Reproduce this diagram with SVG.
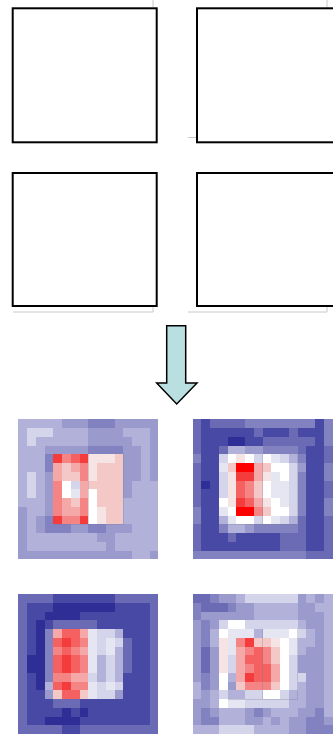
<svg xmlns="http://www.w3.org/2000/svg" width="333" height="735" viewBox="0 0 333 735">
<style>
.box{fill:#fff;stroke:#000;stroke-width:2}
.shadow{stroke:#c8c8c8;stroke-width:1;fill:none}
.hm{shape-rendering:crispEdges}
.a{fill:#d4d4ea}.b{fill:#b1b1d9}.c{fill:#9a9acd}.d{fill:#8282c1}.e{fill:#6a6ab5}.f{fill:#4848a5}.g{fill:#2e2e96}
.w{fill:#ffffff}.v{fill:#e6e6f3}.p{fill:#f6e4e4}.q{fill:#f5c8c8}.r{fill:#f5a8a8}.s{fill:#f58484}.t{fill:#f56060}.u{fill:#f53c3c}.x{fill:#ff0000}
.frame{fill:none;stroke:#7a7a9a;stroke-width:0.07;stroke-opacity:0.5}
.arrow{fill:#b9dfe1;stroke:#000;stroke-width:1.5;stroke-linejoin:miter}
</style>
<rect width="333" height="735" fill="#fff"/>
<g id="shadows">
<line class="shadow" x1="153" y1="0" x2="153" y2="7"/>
<line class="shadow" x1="327" y1="0" x2="327" y2="7"/>
<line class="shadow" x1="188" y1="137.5" x2="196" y2="137.5"/>
<line class="shadow" x1="13" y1="312" x2="153" y2="312"/>
<line class="shadow" x1="153" y1="307" x2="153" y2="312"/>
<line class="shadow" x1="188" y1="312" x2="327" y2="312"/>
<line class="shadow" x1="327" y1="307" x2="327" y2="312"/>
</g>
<g id="box1"><rect class="box" x="12.7" y="8.3" width="144" height="134"/></g>
<g id="box2"><rect class="box" x="197" y="8.3" width="144" height="134"/></g>
<g id="box3"><rect class="box" x="12.7" y="173" width="144" height="133"/></g>
<g id="box4"><rect class="box" x="197" y="173" width="144" height="133"/></g>
<g id="connectors">
<polygon class="arrow" points="166.7,325.7 185.7,325.7 185.7,383 197,383 176.7,404 156.7,383 166.7,383"/>
</g>
<g id="heatmap1" class="hm" transform="translate(18.3 419.3) scale(8.75)">
<rect class="b" x="0" y="0" width="16" height="16"/>
<rect class="c" x="5" y="0" width="3" height="1"/><rect class="d" x="8" y="0" width="3" height="1"/><rect class="c" x="11" y="0" width="5" height="1"/>
<rect class="a" x="1" y="1" width="3" height="1"/><rect class="c" x="8" y="1" width="4" height="1"/><rect class="c" x="15" y="1" width="1" height="1"/>
<rect class="a" x="1" y="2" width="1" height="1"/><rect class="c" x="8" y="2" width="5" height="1"/><rect class="c" x="15" y="2" width="1" height="1"/>
<rect class="c" x="3" y="3" width="5" height="1"/><rect class="d" x="8" y="3" width="4" height="1"/><rect class="c" x="12" y="3" width="2" height="1"/><rect class="c" x="15" y="3" width="1" height="1"/>
<rect class="d" x="3" y="4" width="1" height="1"/><rect class="u" x="4" y="4" width="1" height="1"/><rect class="s" x="5" y="4" width="1" height="1"/><rect class="t" x="6" y="4" width="1" height="1"/><rect class="u" x="7" y="4" width="1" height="1"/><rect class="p" x="8" y="4" width="3" height="1"/><rect class="q" x="11" y="4" width="1" height="1"/><rect class="c" x="12" y="4" width="2" height="1"/><rect class="c" x="15" y="4" width="1" height="1"/>
<rect class="d" x="3" y="5" width="1" height="1"/><rect class="r" x="4" y="5" width="1" height="1"/><rect class="q" x="5" y="5" width="1" height="1"/><rect class="r" x="6" y="5" width="1" height="1"/><rect class="s" x="7" y="5" width="1" height="1"/><rect class="p" x="8" y="5" width="1" height="1"/><rect class="q" x="9" y="5" width="3" height="1"/><rect class="c" x="12" y="5" width="2" height="1"/><rect class="c" x="15" y="5" width="1" height="1"/>
<rect class="a" x="1" y="6" width="1" height="1"/><rect class="c" x="3" y="6" width="1" height="1"/><rect class="r" x="4" y="6" width="1" height="1"/><rect class="q" x="5" y="6" width="2" height="1"/><rect class="s" x="7" y="6" width="1" height="1"/><rect class="p" x="8" y="6" width="1" height="1"/><rect class="q" x="9" y="6" width="3" height="1"/><rect class="c" x="12" y="6" width="2" height="1"/><rect class="c" x="15" y="6" width="1" height="1"/>
<rect class="a" x="1" y="7" width="1" height="1"/><rect class="c" x="3" y="7" width="1" height="1"/><rect class="s" x="4" y="7" width="1" height="1"/><rect class="w" x="5" y="7" width="1" height="1"/><rect class="a" x="6" y="7" width="1" height="1"/><rect class="r" x="7" y="7" width="1" height="1"/><rect class="q" x="8" y="7" width="4" height="1"/><rect class="c" x="12" y="7" width="1" height="1"/>
<rect class="a" x="1" y="8" width="1" height="1"/><rect class="c" x="3" y="8" width="1" height="1"/><rect class="s" x="4" y="8" width="1" height="1"/><rect class="w" x="5" y="8" width="1" height="1"/><rect class="v" x="6" y="8" width="1" height="1"/><rect class="r" x="7" y="8" width="1" height="1"/><rect class="w" x="8" y="8" width="1" height="1"/><rect class="q" x="9" y="8" width="3" height="1"/><rect class="c" x="12" y="8" width="1" height="1"/>
<rect class="c" x="3" y="9" width="1" height="1"/><rect class="s" x="4" y="9" width="1" height="1"/><rect class="r" x="5" y="9" width="1" height="1"/><rect class="q" x="6" y="9" width="1" height="1"/><rect class="s" x="7" y="9" width="1" height="1"/><rect class="w" x="8" y="9" width="1" height="1"/><rect class="q" x="9" y="9" width="3" height="1"/>
<rect class="c" x="0" y="10" width="1" height="1"/><rect class="c" x="3" y="10" width="1" height="1"/><rect class="s" x="4" y="10" width="1" height="1"/><rect class="r" x="5" y="10" width="2" height="1"/><rect class="s" x="7" y="10" width="1" height="1"/><rect class="w" x="8" y="10" width="1" height="1"/><rect class="p" x="9" y="10" width="1" height="1"/><rect class="q" x="10" y="10" width="2" height="1"/>
<rect class="c" x="0" y="11" width="1" height="1"/><rect class="c" x="2" y="11" width="1" height="1"/><rect class="d" x="3" y="11" width="1" height="1"/><rect class="u" x="4" y="11" width="1" height="1"/><rect class="s" x="5" y="11" width="2" height="1"/><rect class="u" x="7" y="11" width="1" height="1"/><rect class="w" x="8" y="11" width="1" height="1"/><rect class="p" x="9" y="11" width="1" height="1"/><rect class="q" x="10" y="11" width="2" height="1"/>
<rect class="c" x="0" y="12" width="1" height="1"/><rect class="c" x="2" y="12" width="1" height="1"/><rect class="d" x="3" y="12" width="3" height="1"/><rect class="c" x="6" y="12" width="2" height="1"/><rect class="d" x="8" y="12" width="2" height="1"/><rect class="c" x="10" y="12" width="3" height="1"/>
<rect class="c" x="0" y="13" width="1" height="1"/><rect class="c" x="9" y="13" width="2" height="1"/>
<rect class="c" x="0" y="14" width="1" height="1"/><rect class="c" x="10" y="14" width="1" height="1"/>
<rect class="c" x="0" y="15" width="13" height="1"/><rect class="c" x="15" y="15" width="1" height="1"/>
<path class="frame" d="M12 4V12H4M8 4V12"/>
</g>
<g id="heatmap2" class="hm" transform="translate(192.7 419.3) scale(8.75)">
<rect class="f" x="0" y="0" width="16" height="16"/>
<rect class="e" x="0" y="0" width="1" height="1"/><rect class="e" x="2" y="0" width="4" height="1"/><rect class="d" x="6" y="0" width="8" height="1"/><rect class="d" x="15" y="0" width="1" height="1"/>
<rect class="e" x="0" y="1" width="1" height="1"/><rect class="e" x="7" y="1" width="1" height="1"/><rect class="e" x="11" y="1" width="1" height="1"/><rect class="d" x="15" y="1" width="1" height="1"/>
<rect class="e" x="0" y="2" width="1" height="1"/><rect class="g" x="4" y="2" width="2" height="1"/><rect class="e" x="8" y="2" width="6" height="1"/><rect class="d" x="15" y="2" width="1" height="1"/>
<rect class="e" x="0" y="3" width="1" height="1"/><rect class="e" x="3" y="3" width="1" height="1"/><rect class="b" x="4" y="3" width="2" height="1"/><rect class="c" x="6" y="3" width="2" height="1"/><rect class="d" x="8" y="3" width="4" height="1"/><rect class="e" x="12" y="3" width="1" height="1"/><rect class="e" x="15" y="3" width="1" height="1"/>
<rect class="d" x="0" y="4" width="1" height="1"/><rect class="a" x="3" y="4" width="1" height="1"/><rect class="w" x="4" y="4" width="1" height="1"/><rect class="p" x="5" y="4" width="1" height="1"/><rect class="w" x="6" y="4" width="1" height="1"/><rect class="a" x="7" y="4" width="1" height="1"/><rect class="w" x="8" y="4" width="1" height="1"/><rect class="v" x="9" y="4" width="1" height="1"/><rect class="a" x="10" y="4" width="1" height="1"/><rect class="b" x="11" y="4" width="1" height="1"/><rect class="d" x="12" y="4" width="1" height="1"/><rect class="e" x="15" y="4" width="1" height="1"/>
<rect class="e" x="0" y="5" width="1" height="1"/><rect class="v" x="3" y="5" width="1" height="1"/><rect class="q" x="4" y="5" width="1" height="1"/><rect class="x" x="5" y="5" width="2" height="1"/><rect class="r" x="7" y="5" width="1" height="1"/><rect class="q" x="8" y="5" width="1" height="1"/><rect class="w" x="9" y="5" width="2" height="1"/><rect class="a" x="11" y="5" width="1" height="1"/><rect class="c" x="12" y="5" width="1" height="1"/><rect class="d" x="15" y="5" width="1" height="1"/>
<rect class="e" x="0" y="6" width="1" height="1"/><rect class="a" x="3" y="6" width="1" height="1"/><rect class="p" x="4" y="6" width="1" height="1"/><rect class="u" x="5" y="6" width="2" height="1"/><rect class="r" x="7" y="6" width="1" height="1"/><rect class="p" x="8" y="6" width="1" height="1"/><rect class="v" x="9" y="6" width="1" height="1"/><rect class="w" x="10" y="6" width="1" height="1"/><rect class="a" x="11" y="6" width="1" height="1"/><rect class="d" x="12" y="6" width="1" height="1"/><rect class="d" x="15" y="6" width="1" height="1"/>
<rect class="e" x="0" y="7" width="1" height="1"/><rect class="g" x="1" y="7" width="1" height="1"/><rect class="a" x="3" y="7" width="1" height="1"/><rect class="p" x="4" y="7" width="1" height="1"/><rect class="t" x="5" y="7" width="1" height="1"/><rect class="s" x="6" y="7" width="1" height="1"/><rect class="q" x="7" y="7" width="1" height="1"/><rect class="w" x="8" y="7" width="1" height="1"/><rect class="v" x="9" y="7" width="2" height="1"/><rect class="a" x="11" y="7" width="1" height="1"/><rect class="d" x="12" y="7" width="1" height="1"/><rect class="e" x="15" y="7" width="1" height="1"/>
<rect class="e" x="0" y="8" width="1" height="1"/><rect class="a" x="3" y="8" width="1" height="1"/><rect class="p" x="4" y="8" width="1" height="1"/><rect class="t" x="5" y="8" width="1" height="1"/><rect class="s" x="6" y="8" width="1" height="1"/><rect class="q" x="7" y="8" width="1" height="1"/><rect class="w" x="8" y="8" width="1" height="1"/><rect class="v" x="9" y="8" width="2" height="1"/><rect class="a" x="11" y="8" width="1" height="1"/><rect class="d" x="12" y="8" width="1" height="1"/><rect class="e" x="15" y="8" width="1" height="1"/>
<rect class="e" x="0" y="9" width="1" height="1"/><rect class="w" x="3" y="9" width="1" height="1"/><rect class="p" x="4" y="9" width="1" height="1"/><rect class="u" x="5" y="9" width="1" height="1"/><rect class="t" x="6" y="9" width="1" height="1"/><rect class="r" x="7" y="9" width="1" height="1"/><rect class="p" x="8" y="9" width="1" height="1"/><rect class="w" x="9" y="9" width="1" height="1"/><rect class="v" x="10" y="9" width="1" height="1"/><rect class="a" x="11" y="9" width="1" height="1"/><rect class="d" x="12" y="9" width="1" height="1"/><rect class="d" x="15" y="9" width="1" height="1"/>
<rect class="d" x="0" y="10" width="1" height="1"/><rect class="v" x="3" y="10" width="1" height="1"/><rect class="w" x="4" y="10" width="1" height="1"/><rect class="x" x="5" y="10" width="2" height="1"/><rect class="s" x="7" y="10" width="1" height="1"/><rect class="q" x="8" y="10" width="1" height="1"/><rect class="w" x="9" y="10" width="2" height="1"/><rect class="a" x="11" y="10" width="1" height="1"/><rect class="d" x="12" y="10" width="1" height="1"/><rect class="d" x="15" y="10" width="1" height="1"/>
<rect class="d" x="0" y="11" width="1" height="1"/><rect class="b" x="3" y="11" width="1" height="1"/><rect class="v" x="4" y="11" width="1" height="1"/><rect class="w" x="5" y="11" width="2" height="1"/><rect class="a" x="7" y="11" width="1" height="1"/><rect class="w" x="8" y="11" width="1" height="1"/><rect class="v" x="9" y="11" width="1" height="1"/><rect class="a" x="10" y="11" width="1" height="1"/><rect class="b" x="11" y="11" width="1" height="1"/><rect class="e" x="12" y="11" width="1" height="1"/><rect class="e" x="15" y="11" width="1" height="1"/>
<rect class="e" x="0" y="12" width="1" height="1"/><rect class="d" x="3" y="12" width="1" height="1"/><rect class="b" x="4" y="12" width="2" height="1"/><rect class="c" x="6" y="12" width="1" height="1"/><rect class="d" x="7" y="12" width="5" height="1"/><rect class="e" x="12" y="12" width="1" height="1"/><rect class="e" x="15" y="12" width="1" height="1"/>
<rect class="e" x="0" y="13" width="1" height="1"/><rect class="e" x="4" y="13" width="1" height="1"/><rect class="e" x="10" y="13" width="3" height="1"/><rect class="e" x="15" y="13" width="1" height="1"/>
<rect class="e" x="0" y="14" width="1" height="1"/><rect class="e" x="10" y="14" width="3" height="1"/><rect class="e" x="15" y="14" width="1" height="1"/>
<rect class="d" x="0" y="15" width="13" height="1"/><rect class="e" x="13" y="15" width="3" height="1"/>
<path class="frame" d="M12 4V12H4M8 4V12"/>
</g>
<g id="heatmap3" class="hm" transform="translate(18.3 594) scale(8.75)">
<rect class="f" x="0" y="0" width="16" height="16"/>
<rect class="e" x="0" y="0" width="4" height="1"/><rect class="e" x="11" y="0" width="5" height="1"/>
<rect class="e" x="0" y="1" width="1" height="1"/><rect class="g" x="4" y="1" width="7" height="1"/><rect class="e" x="15" y="1" width="1" height="1"/>
<rect class="e" x="0" y="2" width="1" height="1"/><rect class="g" x="3" y="2" width="4" height="1"/><rect class="e" x="15" y="2" width="1" height="1"/>
<rect class="e" x="0" y="3" width="1" height="1"/><rect class="g" x="2" y="3" width="1" height="1"/><rect class="e" x="4" y="3" width="5" height="1"/><rect class="e" x="15" y="3" width="1" height="1"/>
<rect class="e" x="0" y="4" width="1" height="1"/><rect class="g" x="2" y="4" width="1" height="1"/><rect class="d" x="3" y="4" width="1" height="1"/><rect class="r" x="4" y="4" width="1" height="1"/><rect class="t" x="5" y="4" width="2" height="1"/><rect class="r" x="7" y="4" width="1" height="1"/><rect class="v" x="8" y="4" width="1" height="1"/><rect class="a" x="9" y="4" width="2" height="1"/><rect class="b" x="11" y="4" width="1" height="1"/><rect class="e" x="15" y="4" width="1" height="1"/>
<rect class="e" x="0" y="5" width="1" height="1"/><rect class="g" x="2" y="5" width="1" height="1"/><rect class="d" x="3" y="5" width="1" height="1"/><rect class="t" x="4" y="5" width="1" height="1"/><rect class="u" x="5" y="5" width="1" height="1"/><rect class="t" x="6" y="5" width="1" height="1"/><rect class="s" x="7" y="5" width="1" height="1"/><rect class="v" x="8" y="5" width="1" height="1"/><rect class="a" x="9" y="5" width="1" height="1"/><rect class="v" x="10" y="5" width="1" height="1"/><rect class="a" x="11" y="5" width="1" height="1"/><rect class="e" x="12" y="5" width="1" height="1"/><rect class="e" x="15" y="5" width="1" height="1"/>
<rect class="e" x="0" y="6" width="1" height="1"/><rect class="g" x="2" y="6" width="1" height="1"/><rect class="d" x="3" y="6" width="1" height="1"/><rect class="s" x="4" y="6" width="1" height="1"/><rect class="t" x="5" y="6" width="1" height="1"/><rect class="s" x="6" y="6" width="1" height="1"/><rect class="r" x="7" y="6" width="1" height="1"/><rect class="v" x="8" y="6" width="1" height="1"/><rect class="a" x="9" y="6" width="1" height="1"/><rect class="v" x="10" y="6" width="1" height="1"/><rect class="b" x="11" y="6" width="1" height="1"/><rect class="e" x="12" y="6" width="1" height="1"/><rect class="e" x="15" y="6" width="1" height="1"/>
<rect class="e" x="0" y="7" width="1" height="1"/><rect class="g" x="1" y="7" width="2" height="1"/><rect class="d" x="3" y="7" width="1" height="1"/><rect class="t" x="4" y="7" width="1" height="1"/><rect class="u" x="5" y="7" width="1" height="1"/><rect class="t" x="6" y="7" width="1" height="1"/><rect class="s" x="7" y="7" width="1" height="1"/><rect class="v" x="8" y="7" width="1" height="1"/><rect class="b" x="9" y="7" width="1" height="1"/><rect class="a" x="10" y="7" width="1" height="1"/><rect class="b" x="11" y="7" width="1" height="1"/><rect class="e" x="12" y="7" width="1" height="1"/><rect class="e" x="15" y="7" width="1" height="1"/>
<rect class="e" x="0" y="8" width="1" height="1"/><rect class="g" x="1" y="8" width="2" height="1"/><rect class="d" x="3" y="8" width="1" height="1"/><rect class="t" x="4" y="8" width="1" height="1"/><rect class="u" x="5" y="8" width="1" height="1"/><rect class="t" x="6" y="8" width="1" height="1"/><rect class="s" x="7" y="8" width="1" height="1"/><rect class="v" x="8" y="8" width="1" height="1"/><rect class="b" x="9" y="8" width="1" height="1"/><rect class="a" x="10" y="8" width="1" height="1"/><rect class="b" x="11" y="8" width="1" height="1"/><rect class="e" x="12" y="8" width="1" height="1"/><rect class="e" x="15" y="8" width="1" height="1"/>
<rect class="e" x="0" y="9" width="1" height="1"/><rect class="g" x="2" y="9" width="1" height="1"/><rect class="d" x="3" y="9" width="1" height="1"/><rect class="s" x="4" y="9" width="2" height="1"/><rect class="r" x="6" y="9" width="2" height="1"/><rect class="a" x="8" y="9" width="1" height="1"/><rect class="b" x="9" y="9" width="1" height="1"/><rect class="a" x="10" y="9" width="1" height="1"/><rect class="b" x="11" y="9" width="1" height="1"/><rect class="e" x="15" y="9" width="1" height="1"/>
<rect class="e" x="0" y="10" width="1" height="1"/><rect class="g" x="2" y="10" width="1" height="1"/><rect class="b" x="3" y="10" width="1" height="1"/><rect class="t" x="4" y="10" width="1" height="1"/><rect class="u" x="5" y="10" width="1" height="1"/><rect class="s" x="6" y="10" width="2" height="1"/><rect class="v" x="8" y="10" width="1" height="1"/><rect class="a" x="9" y="10" width="1" height="1"/><rect class="v" x="10" y="10" width="1" height="1"/><rect class="a" x="11" y="10" width="1" height="1"/><rect class="e" x="15" y="10" width="1" height="1"/>
<rect class="e" x="0" y="11" width="1" height="1"/><rect class="c" x="3" y="11" width="1" height="1"/><rect class="q" x="4" y="11" width="1" height="1"/><rect class="t" x="5" y="11" width="2" height="1"/><rect class="q" x="7" y="11" width="1" height="1"/><rect class="v" x="8" y="11" width="1" height="1"/><rect class="a" x="9" y="11" width="2" height="1"/><rect class="c" x="11" y="11" width="1" height="1"/><rect class="e" x="15" y="11" width="1" height="1"/>
<rect class="e" x="0" y="12" width="1" height="1"/><rect class="e" x="4" y="12" width="3" height="1"/><rect class="e" x="15" y="12" width="1" height="1"/>
<rect class="e" x="0" y="13" width="1" height="1"/><rect class="g" x="5" y="13" width="1" height="1"/><rect class="g" x="7" y="13" width="1" height="1"/><rect class="e" x="15" y="13" width="1" height="1"/>
<rect class="e" x="0" y="14" width="1" height="1"/><rect class="g" x="3" y="14" width="4" height="1"/><rect class="e" x="15" y="14" width="1" height="1"/>
<rect class="e" x="0" y="15" width="5" height="1"/><rect class="e" x="7" y="15" width="9" height="1"/>
</g>
<g id="heatmap4" class="hm" transform="translate(192.7 594) scale(8.75)">
<rect class="b" x="0" y="0" width="16" height="16"/>
<rect class="e" x="0" y="0" width="2" height="1"/><rect class="d" x="2" y="0" width="1" height="1"/><rect class="c" x="3" y="0" width="2" height="1"/><rect class="a" x="6" y="0" width="6" height="1"/><rect class="c" x="12" y="0" width="1" height="1"/><rect class="c" x="14" y="0" width="1" height="1"/>
<rect class="d" x="0" y="1" width="1" height="1"/><rect class="e" x="1" y="1" width="3" height="1"/><rect class="d" x="4" y="1" width="1" height="1"/><rect class="c" x="5" y="1" width="2" height="1"/><rect class="c" x="12" y="1" width="2" height="1"/>
<rect class="d" x="0" y="2" width="1" height="1"/><rect class="c" x="1" y="2" width="6" height="1"/><rect class="c" x="12" y="2" width="3" height="1"/>
<rect class="c" x="0" y="3" width="1" height="1"/><rect class="d" x="1" y="3" width="1" height="1"/><rect class="c" x="2" y="3" width="1" height="1"/><rect class="a" x="3" y="3" width="1" height="1"/><rect class="w" x="4" y="3" width="2" height="1"/><rect class="a" x="6" y="3" width="6" height="1"/><rect class="c" x="13" y="3" width="2" height="1"/>
<rect class="c" x="0" y="4" width="1" height="1"/><rect class="d" x="1" y="4" width="1" height="1"/><rect class="w" x="3" y="4" width="1" height="1"/><rect class="v" x="4" y="4" width="3" height="1"/><rect class="v" x="8" y="4" width="3" height="1"/><rect class="w" x="11" y="4" width="1" height="1"/><rect class="a" x="12" y="4" width="1" height="1"/><rect class="c" x="14" y="4" width="1" height="1"/>
<rect class="c" x="0" y="5" width="1" height="1"/><rect class="d" x="1" y="5" width="1" height="1"/><rect class="p" x="3" y="5" width="1" height="1"/><rect class="v" x="4" y="5" width="1" height="1"/><rect class="s" x="5" y="5" width="1" height="1"/><rect class="u" x="6" y="5" width="1" height="1"/><rect class="q" x="7" y="5" width="2" height="1"/><rect class="p" x="9" y="5" width="1" height="1"/><rect class="w" x="10" y="5" width="1" height="1"/><rect class="v" x="11" y="5" width="1" height="1"/><rect class="c" x="14" y="5" width="1" height="1"/>
<rect class="c" x="0" y="6" width="1" height="1"/><rect class="e" x="1" y="6" width="1" height="1"/><rect class="c" x="2" y="6" width="1" height="1"/><rect class="p" x="3" y="6" width="1" height="1"/><rect class="v" x="4" y="6" width="1" height="1"/><rect class="r" x="5" y="6" width="1" height="1"/><rect class="s" x="6" y="6" width="1" height="1"/><rect class="t" x="7" y="6" width="1" height="1"/><rect class="s" x="8" y="6" width="1" height="1"/><rect class="q" x="9" y="6" width="1" height="1"/><rect class="w" x="10" y="6" width="1" height="1"/><rect class="v" x="11" y="6" width="1" height="1"/><rect class="c" x="13" y="6" width="2" height="1"/>
<rect class="c" x="0" y="7" width="1" height="1"/><rect class="e" x="1" y="7" width="1" height="1"/><rect class="c" x="2" y="7" width="1" height="1"/><rect class="p" x="3" y="7" width="1" height="1"/><rect class="a" x="4" y="7" width="1" height="1"/><rect class="r" x="5" y="7" width="1" height="1"/><rect class="t" x="6" y="7" width="2" height="1"/><rect class="s" x="8" y="7" width="1" height="1"/><rect class="q" x="9" y="7" width="1" height="1"/><rect class="w" x="10" y="7" width="1" height="1"/><rect class="a" x="11" y="7" width="1" height="1"/><rect class="c" x="12" y="7" width="3" height="1"/>
<rect class="c" x="0" y="8" width="1" height="1"/><rect class="e" x="1" y="8" width="1" height="1"/><rect class="c" x="2" y="8" width="1" height="1"/><rect class="p" x="3" y="8" width="1" height="1"/><rect class="a" x="4" y="8" width="1" height="1"/><rect class="r" x="5" y="8" width="1" height="1"/><rect class="s" x="6" y="8" width="1" height="1"/><rect class="t" x="7" y="8" width="2" height="1"/><rect class="r" x="9" y="8" width="1" height="1"/><rect class="w" x="10" y="8" width="1" height="1"/><rect class="a" x="11" y="8" width="1" height="1"/><rect class="c" x="12" y="8" width="3" height="1"/>
<rect class="c" x="0" y="9" width="1" height="1"/><rect class="d" x="1" y="9" width="1" height="1"/><rect class="c" x="2" y="9" width="1" height="1"/><rect class="w" x="3" y="9" width="1" height="1"/><rect class="r" x="5" y="9" width="1" height="1"/><rect class="u" x="6" y="9" width="1" height="1"/><rect class="t" x="7" y="9" width="2" height="1"/><rect class="r" x="9" y="9" width="1" height="1"/><rect class="w" x="10" y="9" width="1" height="1"/><rect class="a" x="11" y="9" width="2" height="1"/><rect class="c" x="13" y="9" width="2" height="1"/>
<rect class="d" x="1" y="10" width="1" height="1"/><rect class="c" x="2" y="10" width="1" height="1"/><rect class="w" x="3" y="10" width="1" height="1"/><rect class="c" x="4" y="10" width="1" height="1"/><rect class="q" x="5" y="10" width="1" height="1"/><rect class="s" x="6" y="10" width="3" height="1"/><rect class="q" x="9" y="10" width="1" height="1"/><rect class="w" x="10" y="10" width="1" height="1"/><rect class="a" x="11" y="10" width="1" height="1"/><rect class="c" x="13" y="10" width="2" height="1"/>
<rect class="c" x="1" y="11" width="1" height="1"/><rect class="a" x="3" y="11" width="1" height="1"/><rect class="a" x="6" y="11" width="2" height="1"/><rect class="w" x="8" y="11" width="2" height="1"/><rect class="a" x="10" y="11" width="1" height="1"/><rect class="c" x="13" y="11" width="2" height="1"/>
<rect class="c" x="0" y="12" width="2" height="1"/><rect class="w" x="3" y="12" width="1" height="1"/><rect class="v" x="4" y="12" width="2" height="1"/><rect class="a" x="6" y="12" width="5" height="1"/><rect class="c" x="13" y="12" width="2" height="1"/>
<rect class="c" x="0" y="13" width="1" height="1"/><rect class="d" x="1" y="13" width="1" height="1"/><rect class="c" x="2" y="13" width="1" height="1"/><rect class="c" x="6" y="13" width="1" height="1"/><rect class="d" x="7" y="13" width="1" height="1"/><rect class="c" x="8" y="13" width="1" height="1"/><rect class="c" x="12" y="13" width="2" height="1"/><rect class="d" x="14" y="13" width="1" height="1"/>
<rect class="c" x="0" y="14" width="1" height="1"/><rect class="d" x="1" y="14" width="2" height="1"/><rect class="c" x="6" y="14" width="2" height="1"/><rect class="c" x="9" y="14" width="1" height="1"/><rect class="c" x="11" y="14" width="2" height="1"/><rect class="d" x="13" y="14" width="2" height="1"/><rect class="c" x="15" y="14" width="1" height="1"/>
<rect class="a" x="3" y="15" width="4" height="1"/><rect class="c" x="11" y="15" width="2" height="1"/><rect class="d" x="13" y="15" width="3" height="1"/>
<path class="frame" d="M12 4V12H4M8 4V12"/>
</g>
</svg>
